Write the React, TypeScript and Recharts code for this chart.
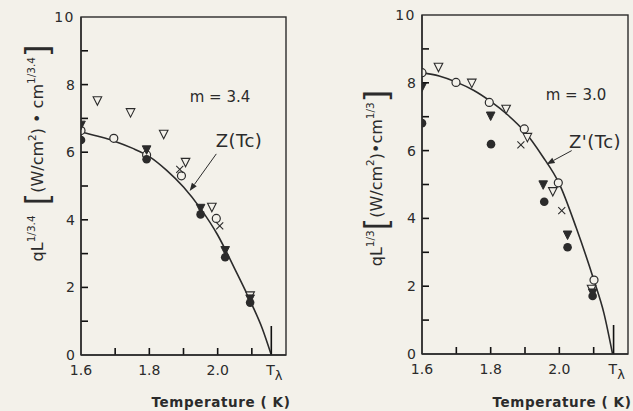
import React from 'react';
import { ComposedChart, Line, Scatter, XAxis, YAxis, ReferenceLine } from 'recharts';

const INK = '#2b2b2b';
const BG = '#f3f1ea';
const FONT = '"DejaVu Sans", "Liberation Sans", sans-serif';

// axis ticks
const yTicks = [0, 1, 2, 3, 4, 5, 6, 7, 8, 9, 10];
const yLabels = [0, 2, 4, 6, 8, 10];
const xMinor = [1.6, 1.7, 1.8, 1.9, 2.0, 2.1];
const xLabels = [1.6, 1.8, 2.0];
const T_LAMBDA_LEFT = 2.157;
const T_LAMBDA_RIGHT = 2.158;

// left panel (m = 3.4): Z(Tc) curve
const leftCurveT = [1.6, 1.65, 1.7, 1.75, 1.8, 1.85, 1.9, 1.95, 2.0, 2.05, 2.1, 2.13, 2.157];
const leftCurveV = [6.6, 6.47, 6.32, 6.12, 5.87, 5.47, 4.97, 4.33, 3.55, 2.55, 1.5, 0.8, 0];
// left panel data
const leftOpenTri = [
  { t: 1.648, v: 7.52 }, { t: 1.745, v: 7.17 }, { t: 1.842, v: 6.53 },
  { t: 1.906, v: 5.7 }, { t: 1.983, v: 4.37 }, { t: 2.095, v: 1.75 },
];
const leftOpenCircle = [
  { t: 1.6, v: 6.64 }, { t: 1.696, v: 6.41 }, { t: 1.792, v: 5.92 },
  { t: 1.894, v: 5.3 }, { t: 1.996, v: 4.04 },
];
const leftFilledTri = [
  { t: 1.6, v: 6.8 }, { t: 1.792, v: 6.07 }, { t: 1.95, v: 4.34 },
  { t: 2.022, v: 3.09 }, { t: 2.095, v: 1.66 },
];
const leftFilledCircle = [
  { t: 1.6, v: 6.36 }, { t: 1.792, v: 5.79 }, { t: 1.95, v: 4.16 },
  { t: 2.022, v: 2.89 }, { t: 2.095, v: 1.55 },
];
const leftCross = [{ t: 1.889, v: 5.49 }, { t: 2.006, v: 3.82 }];

// right panel (m = 3.0): Z'(Tc) curve
const rightCurveT = [1.6, 1.65, 1.7, 1.75, 1.8, 1.85, 1.9, 1.95, 2.0, 2.05, 2.1, 2.13, 2.155];
const rightCurveV = [8.3, 8.2, 8.02, 7.78, 7.45, 7.05, 6.55, 5.85, 5.02, 3.7, 2.2, 1.2, 0];
// right panel data
const rightOpenCircle = [
  { t: 1.6, v: 8.3 }, { t: 1.699, v: 8.01 }, { t: 1.796, v: 7.42 },
  { t: 1.898, v: 6.64 }, { t: 1.997, v: 5.05 }, { t: 2.101, v: 2.18 },
];
const rightOpenTri = [
  { t: 1.648, v: 8.46 }, { t: 1.745, v: 7.99 }, { t: 1.845, v: 7.22 },
  { t: 1.907, v: 6.39 }, { t: 1.981, v: 4.79 }, { t: 2.094, v: 1.91 },
];
const rightFilledTri = [
  { t: 1.6, v: 7.87 }, { t: 1.8, v: 7.02 }, { t: 1.953, v: 4.99 },
  { t: 2.024, v: 3.51 }, { t: 2.097, v: 1.8 },
];
const rightFilledCircle = [
  { t: 1.6, v: 6.81 }, { t: 1.801, v: 6.19 }, { t: 1.956, v: 4.49 },
  { t: 2.024, v: 3.15 }, { t: 2.097, v: 1.71 },
];
const rightCross = [{ t: 1.888, v: 6.17 }, { t: 2.007, v: 4.23 }];

// annotation arrows (data coordinates: tail -> head)
const leftArrow = [{ t: 1.996, v: 5.95 }, { t: 1.918, v: 4.85 }];
const rightArrow = [{ t: 2.036, v: 6.0 }, { t: 1.963, v: 5.6 }];

const toCurve = (ts: number[], vs: number[]) => ts.map((t, i) => ({ t, v: vs[i] }));

const OpenCircle = (p: any) => <circle cx={p.cx} cy={p.cy} r={4} fill={BG} stroke={INK} strokeWidth={1.2} />;
const FilledCircle = (p: any) => <circle cx={p.cx} cy={p.cy} r={4.3} fill={INK} />;
const triPts = (cx: number, cy: number) => `${cx - 4.3},${cy - 4} ${cx + 4.3},${cy - 4} ${cx},${cy + 4.5}`;
const OpenTri = (p: any) => <polygon points={triPts(p.cx, p.cy)} fill={BG} stroke={INK} strokeWidth={1.1} />;
const FilledTri = (p: any) => <polygon points={triPts(p.cx, p.cy)} fill={INK} stroke={INK} strokeWidth={1} />;
const Cross = (p: any) => (
  <g stroke={INK} strokeWidth={1.1}>
    <line x1={p.cx - 3.5} y1={p.cy - 3.5} x2={p.cx + 3.5} y2={p.cy + 3.5} />
    <line x1={p.cx - 3.5} y1={p.cy + 3.5} x2={p.cx + 3.5} y2={p.cy - 3.5} />
  </g>
);

const Arrow = (p: any) => {
  const { x1, y1, x2, y2 } = p;
  const a = Math.atan2(y2 - y1, x2 - x1);
  const L = 8, W = 3;
  const bx = x2 - L * Math.cos(a), by = y2 - L * Math.sin(a);
  const nx = -Math.sin(a) * W, ny = Math.cos(a) * W;
  return (
    <g>
      <line x1={x1} y1={y1} x2={bx} y2={by} stroke={INK} strokeWidth={1} />
      <polygon points={`${x2},${y2} ${bx + nx},${by + ny} ${bx - nx},${by - ny}`} fill={INK} />
    </g>
  );
};

const near = (a: number, b: number) => Math.abs(a - b) < 1e-6;

const makeXTick = (tl: number) => (props: any) => {
  const { x, y, payload } = props;
  const v = payload.value;
  const isTL = near(v, tl);
  const label = xLabels.some((l) => near(l, v));
  return (
    <g>
      {v > 1.6 + 1e-6 && (
        <path d={`M${x},${y} L${x},${y - (isTL ? 29 : 7)}`} stroke="#111" strokeWidth={1.6} fill="none" />
      )}
      {label && (
        <text x={x} y={y + 20} textAnchor="middle" fontSize={14} fontFamily={FONT} fill={INK}>
          {v.toFixed(1)}
        </text>
      )}
      {isTL && (
        <text x={x - 5} y={y + 20} fontSize={14} fontFamily={FONT} fill={INK}>
          T<tspan dy={5} fontSize={13}>λ</tspan>
        </text>
      )}
    </g>
  );
};

const YTick = (props: any) => {
  const { x, y, payload } = props;
  const v = payload.value;
  const label = yLabels.includes(v);
  return (
    <g>
      {v > 0 && v < 10 && <path d={`M${x},${y} L${x + 7},${y}`} stroke="#111" strokeWidth={1.6} fill="none" />}
      {label && (
        <text x={x - 6} y={y} dy="0.36em" textAnchor="end" fontSize={14} fontFamily={FONT} fill={INK}
          letterSpacing={v === 10 ? 1.5 : 0}>
          {v}
        </text>
      )}
    </g>
  );
};

type Pt = { t: number; v: number };
type PanelProps = {
  curve: Pt[];
  openTri: Pt[];
  openCircle: Pt[];
  filledTri: Pt[];
  filledCircle: Pt[];
  cross: Pt[];
  arrow: Pt[];
  tl: number;
  width: number;
  margin: { top: number; right: number; bottom: number; left: number };
};

const Panel = (p: PanelProps) => (
  <ComposedChart width={p.width} height={411} margin={p.margin}>
    <XAxis dataKey="t" type="number" domain={[1.6, 2.2]} allowDataOverflow ticks={[...xMinor, p.tl]}
      interval={0} tickSize={0} tickMargin={0} height={30} axisLine={{ stroke: INK, strokeWidth: 1.4 }}
      tickLine={false} tick={makeXTick(p.tl)} />
    <YAxis dataKey="v" type="number" domain={[0, 10]} allowDataOverflow ticks={yTicks} interval={0}
      tickSize={0} tickMargin={0} width={40} axisLine={{ stroke: INK, strokeWidth: 1.4 }}
      tickLine={false} tick={YTick} />
    <Line data={p.curve} dataKey="v" type="monotone" stroke={INK} strokeWidth={1.6} dot={false}
      isAnimationActive={false} />
    <ReferenceLine segment={[{ x: p.arrow[0].t, y: p.arrow[0].v }, { x: p.arrow[1].t, y: p.arrow[1].v }]}
      ifOverflow="visible" shape={Arrow} />
    <Scatter data={p.openTri} dataKey="v" shape={OpenTri} isAnimationActive={false} />
    <Scatter data={p.openCircle} dataKey="v" shape={OpenCircle} isAnimationActive={false} />
    <Scatter data={p.filledCircle} dataKey="v" shape={FilledCircle} isAnimationActive={false} />
    <Scatter data={p.filledTri} dataKey="v" shape={FilledTri} isAnimationActive={false} />
    <Scatter data={p.cross} dataKey="v" shape={Cross} isAnimationActive={false} />
  </ComposedChart>
);

const txt = { fontFamily: FONT, fill: INK };

export default function App() {
  return (
    <div style={{ position: 'absolute', left: 0, top: 0, width: 633, height: 411, background: BG, overflow: 'hidden' }}>
      <div style={{ position: 'absolute', left: 0, top: 0 }}>
        <Panel curve={toCurve(leftCurveT, leftCurveV)} openTri={leftOpenTri} openCircle={leftOpenCircle}
          filledTri={leftFilledTri} filledCircle={leftFilledCircle} cross={leftCross} arrow={leftArrow}
          tl={T_LAMBDA_LEFT} width={316} margin={{ top: 17, right: 30, bottom: 26, left: 41 }} />
      </div>
      <div style={{ position: 'absolute', left: 316, top: 0 }}>
        <Panel curve={toCurve(rightCurveT, rightCurveV)} openTri={rightOpenTri} openCircle={rightOpenCircle}
          filledTri={rightFilledTri} filledCircle={rightFilledCircle} cross={rightCross} arrow={rightArrow}
          tl={T_LAMBDA_RIGHT} width={317} margin={{ top: 15, right: 5, bottom: 27, left: 66 }} />
      </div>
      <svg width={633} height={411} style={{ position: 'absolute', left: 0, top: 0, pointerEvents: 'none' }}>
        {/* plot frames (match the chart plot areas) */}
        <rect x={81} y={17} width={205} height={338} fill="none" stroke={INK} strokeWidth={1.4} />
        <rect x={422} y={15} width={206} height={339} fill="none" stroke={INK} strokeWidth={1.4} />
        {/* x-axis titles */}
        <text x={221} y={407} textAnchor="middle" fontSize={13.5} fontWeight="bold" letterSpacing={0.6} {...txt}>
          Temperature ( K)
        </text>
        <text x={562} y={407} textAnchor="middle" fontSize={13.5} fontWeight="bold" letterSpacing={0.6} {...txt}>
          Temperature ( K)
        </text>
        {/* annotations */}
        <text x={220} y={102} textAnchor="middle" fontSize={15} {...txt}>m = 3.4</text>
        <text x={576} y={100} textAnchor="middle" fontSize={15} {...txt}>m = 3.0</text>
        <text x={239} y={147} textAnchor="middle" fontSize={18} letterSpacing={0.5} {...txt}>Z(Tc)</text>
        <text x={595} y={148} textAnchor="middle" fontSize={18} letterSpacing={0.5} {...txt}>Z'(Tc)</text>
        {/* y-axis titles */}
        <text transform="translate(43,153) rotate(-90)" textAnchor="middle" fontSize={16} {...txt}>
          qL<tspan dy={-8} fontSize={10.5}>1/3.4</tspan>
          <tspan dy={13} fontSize={32}> [</tspan>
          <tspan dy={-5} fontSize={16}>(W/cm</tspan>
          <tspan dy={-7} fontSize={10.5}>2</tspan>
          <tspan dy={7} fontSize={16}>) • cm</tspan>
          <tspan dy={-8} fontSize={10.5}>1/3.4</tspan>
          <tspan dy={13} fontSize={32}>]</tspan>
        </text>
        <text transform="translate(382,178) rotate(-90)" textAnchor="middle" fontSize={16} {...txt}>
          qL<tspan dy={-8} fontSize={10.5}>1/3</tspan>
          <tspan dy={13} fontSize={32}>[</tspan>
          <tspan dy={-5} fontSize={16}>(W/cm</tspan>
          <tspan dy={-8} fontSize={10.5}>2</tspan>
          <tspan dy={8} fontSize={16}>)•cm</tspan>
          <tspan dy={-8} fontSize={10.5}>1/3</tspan>
          <tspan dy={13} fontSize={32}>]</tspan>
        </text>
      </svg>
    </div>
  );
}
